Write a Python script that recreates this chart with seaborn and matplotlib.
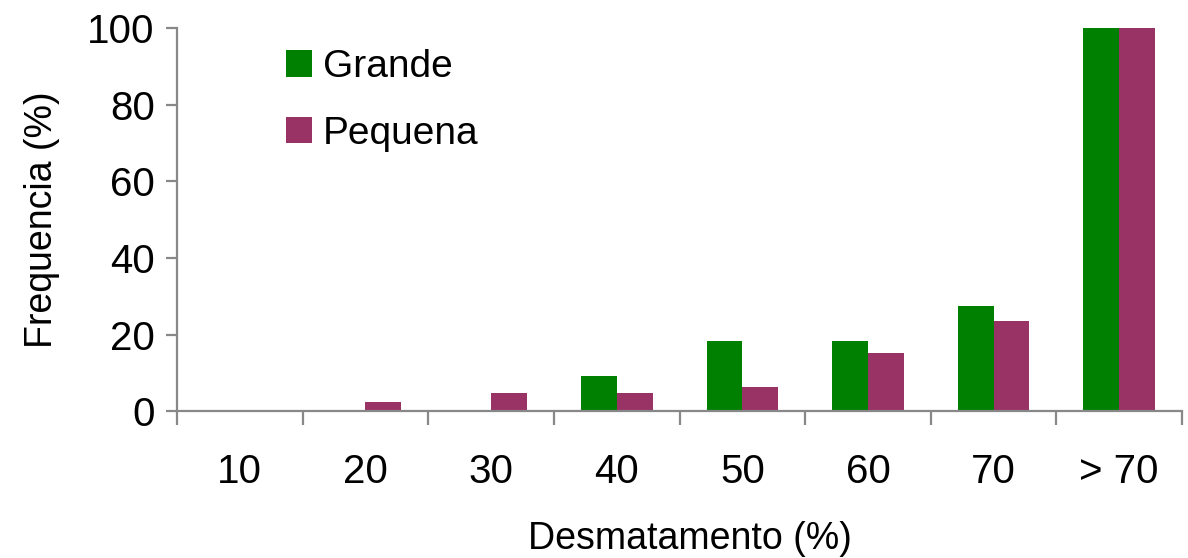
import matplotlib
matplotlib.use("Agg")
import matplotlib.pyplot as plt
from matplotlib.patches import Patch
from matplotlib.ticker import FixedLocator
import seaborn as sns
import pandas as pd

# Deforestation classes and frequency per property size
classes = ["10", "20", "30", "40", "50", "60", "70", "> 70"]
grande = [0, 0, 0, 9.2, 18.3, 18.3, 27.5, 100]
pequena = [0, 2.4, 4.7, 4.7, 6.3, 15.2, 23.6, 100]
groups = ["Grande", "Pequena"]
colors = ["#008000", "#993366"]

df = pd.DataFrame({
    "classe": classes * 2,
    "freq": grande + pequena,
    "grupo": [groups[0]] * len(classes) + [groups[1]] * len(classes),
})

sns.set_theme(style="white")
plt.rcParams["font.family"] = ["Liberation Sans", "DejaVu Sans"]
plt.rcParams["text.color"] = "black"
plt.rcParams["axes.labelcolor"] = "black"

fig = plt.figure(figsize=(11.88, 5.58), dpi=100)
ax = fig.add_axes([0.149, 0.263, 0.846, 0.687])

sns.barplot(data=df, x="classe", y="freq", hue="grupo", order=classes,
            hue_order=groups, palette=colors, width=0.57, saturation=1,
            linewidth=0, legend=False, ax=ax)

spine_col = "#888888"
ax.set_xlim(-0.5, len(classes) - 0.5)
ax.set_ylim(0, 100)
ax.set_yticks([0, 20, 40, 60, 80, 100])
for s in ["top", "right"]:
    ax.spines[s].set_visible(False)
for s in ["left", "bottom"]:
    ax.spines[s].set_color(spine_col)
    ax.spines[s].set_linewidth(1.6)

# category labels centred, tick marks on the category boundaries
ax.xaxis.set_minor_locator(FixedLocator([i - 0.5 for i in range(len(classes) + 1)]))
ax.tick_params(axis="x", which="major", length=0, pad=30, labelsize=29, labelcolor="black")
ax.tick_params(axis="x", which="minor", length=10, width=1.6, color=spine_col, direction="out")
ax.tick_params(axis="y", which="major", length=8, width=1.6, color=spine_col,
               direction="out", pad=8, labelsize=29, labelcolor="black")
ax.tick_params(axis="both", bottom=True, left=True)
ax.xaxis.set_tick_params(which="minor", bottom=True)

ax.set_xlabel("Desmatamento (%)", fontsize=27, labelpad=22, x=0.51)
ax.set_ylabel("Frequencia (%)", fontsize=27, labelpad=20)

handles = [Patch(facecolor=c, edgecolor="none", label=g) for g, c in zip(groups, colors)]
ax.legend(handles=handles, loc="upper left", bbox_to_anchor=(0.087, 1.0), frameon=False,
          fontsize=28, handlelength=0.68, handleheight=0.68, handletextpad=0.28,
          labelspacing=0.78, borderaxespad=0.15, labelcolor="black")

fig.savefig("out.png", dpi=100)
